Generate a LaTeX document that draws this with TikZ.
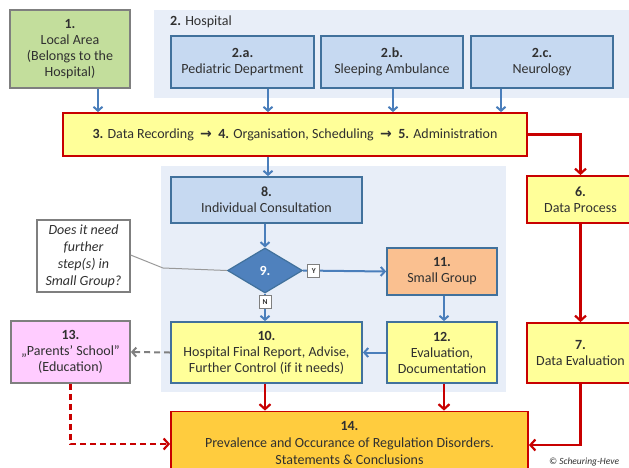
\documentclass[tikz,border=0pt]{standalone}
\usepackage{fontspec}
\setmainfont{Carlito}
\newfontfamily\symfont{DejaVu Sans}
\usetikzlibrary{arrows.meta,shapes.geometric,calc}
\definecolor{bluefill}{HTML}{C6D9F1}
\definecolor{blueline}{HTML}{41719C}
\definecolor{bluearrow}{HTML}{4A7EBB}
\definecolor{greenfill}{HTML}{C3DE9C}
\definecolor{grayline}{HTML}{7F7F7F}
\definecolor{yellowfill}{HTML}{FFFF99}
\definecolor{redline}{HTML}{C80000}
\definecolor{orangefill}{HTML}{FAC090}
\definecolor{pinkfill}{HTML}{FFCCFF}
\definecolor{goldfill}{HTML}{FFCC3E}
\definecolor{bgblue}{HTML}{E8EEF8}
\definecolor{txt}{HTML}{303030}
\definecolor{diamfill}{HTML}{4F81BD}
\tikzset{
  box/.style={rectangle, draw, line width=1.8pt, align=center, inner sep=2pt, text=txt,
    font=\fontsize{14}{16}\selectfont},
  bluebox/.style={box, fill=bluefill, draw=blueline},
  yelbox/.style={box, fill=yellowfill, draw=redline},
  yelblue/.style={box, fill=yellowfill, draw=blueline},
  barrow/.style={draw=bluearrow, line width=2pt, -{Straight Barb[length=4pt,width=9pt]}},
  rarrow/.style={draw=redline, line width=2.2pt, -{Straight Barb[length=5pt,width=11pt]}},
  yn/.style={rectangle, draw=grayline, fill=white, line width=0.8pt, inner sep=1pt,
    minimum width=12pt, minimum height=13pt, font=\fontsize{7.5}{7.5}\selectfont\bfseries, text=txt},
}
\begin{document}
\begin{tikzpicture}[x=1pt,y=-1pt]
\useasboundingbox (0,0) rectangle (629,467);
\clip (0,0) rectangle (629,467);
% backgrounds
\fill[bgblue] (154,10) rectangle (629,98);
\fill[bgblue] (161,166) rectangle (506,392);
\node[anchor=west, text=txt, font=\fontsize{14}{16}\selectfont, inner sep=0] (hosp) at (170,22) {\textbf{2.} Hospital};
% nodes
\node[box, fill=greenfill, draw=grayline, minimum width=120pt, minimum height=78pt] (n1) at (70,49)
  {\textbf{1.}\\Local Area\\(Belongs to the\\Hospital)};
\node[bluebox, minimum width=143pt, minimum height=52pt] (n2a) at (242.5,62) {\textbf{2.a.}\\Pediatric Department};
\node[bluebox, minimum width=142pt, minimum height=52pt] (n2b) at (392,62) {\textbf{2.b.}\\Sleeping Ambulance};
\node[bluebox, minimum width=142pt, minimum height=52pt] (n2c) at (542,62) {\textbf{2.c.}\\Neurology};
\node[yelbox, minimum width=464pt, minimum height=43pt] (n3) at (295,134.5)
  {\textbf{3.} Data Recording~ {\symfont\bfseries →}~ \textbf{4.} Organisation, Scheduling~ {\symfont\bfseries →}~ \textbf{5.} Administration};
\node[bluebox, minimum width=191pt, minimum height=46pt] (n8) at (266.5,200) {\textbf{8.}\\Individual Consultation};
\node[diamond, fill=diamfill, draw=blueline, line width=1.2pt, minimum width=75pt, minimum height=45pt,
  inner sep=0pt, text=white, font=\fontsize{14}{16}\selectfont\bfseries] (n9) at (265,270.5) {9.};
\node[box, fill=orangefill, draw=blueline, minimum width=110pt, minimum height=47pt] (n11) at (442,271.5) {\textbf{11.}\\Small Group};
\node[yelblue, minimum width=191pt, minimum height=61pt] (n10) at (266.5,352.5)
  {\textbf{10.}\\Hospital Final Report, Advise,\\Further Control (if it needs)};
\node[yelblue, minimum width=110pt, minimum height=61pt] (n12) at (442,352.5)
  {\textbf{12.}\\Evaluation,\\Documentation};
\node[box, fill=pinkfill, draw=grayline, minimum width=119pt, minimum height=62pt] (n13) at (70.5,352)
  {\textbf{13.}\\„Parents’ School”\\(Education)};
\node[box, fill=white, draw=grayline, line width=1.2pt, minimum width=93pt, minimum height=72pt,
  font=\fontsize{14}{17}\selectfont\itshape] (call) at (83.5,256)
  {Does it need\\further\\step(s) in\\Small Group?};
\node[yelbox, minimum width=107pt, minimum height=47pt] (n6) at (580.5,199.5) {\textbf{6.}\\Data Process};
\node[yelbox, minimum width=107pt, minimum height=60pt] (n7) at (580.5,353) {\textbf{7.}\\Data Evaluation};
\node[box, fill=goldfill, draw=redline, minimum width=357pt, minimum height=63pt, font=\fontsize{14}{17}\selectfont] (n14) at (349.5,443)
  {\textbf{14.}\\Prevalence and Occurance of Regulation Disorders.\\Statements \& Conclusions};
\node[anchor=west, inner sep=0, text=txt, font=\fontsize{9.5}{9.5}\selectfont\itshape] (copy) at (549,462) {© Scheuring-Heve};
% connectors
\draw[barrow] ([xshift=28pt]n1.south) -- ([xshift=28pt]n1.south |- n3.north);
\draw[barrow] ([xshift=25.5pt]n2a.south) -- ([xshift=25.5pt]n2a.south |- n3.north);
\draw[barrow] ([xshift=1pt]n2b.south) -- ([xshift=1pt]n2b.south |- n3.north);
\draw[barrow] ([xshift=-41pt]n2c.south) -- ([xshift=-41pt]n2c.south |- n3.north);
\draw[barrow] ([xshift=1.5pt]n8.north |- n3.south) -- ([xshift=1.5pt]n8.north);
\draw[barrow] (n9.north |- n8.south) -- (n9.north);
\draw[barrow] (n9.east) -- node[pos=0.13, yn] (ylab) {Y} (n11.west);
\draw[barrow] (n9.south) -- node[pos=0.3, yn] (nlab) {N} (n9.south |- n10.north);
\draw[barrow] ([xshift=2pt]n11.south) -- ([xshift=2pt]n12.north);
\draw[barrow] (n12.west) -- (n10.east);
\draw[draw=grayline, line width=2pt, dash pattern=on 6pt off 4pt, -{Straight Barb[length=4pt,width=9pt]}] (n10.west) -- (n13.east);
\coordinate (cbend) at (163,268);
\draw[draw=black!40, line width=1pt] ([yshift=1pt]call.east) -- (cbend) -- (n9.west);
\draw[rarrow] (n3.east) -| (n6.north);
\draw[rarrow] (n6.south) -- (n7.north);
\draw[rarrow] (n9.south |- n10.south) -- (n9.south |- n14.north);
\draw[rarrow] ([xshift=2pt]n12.south) -- ([xshift=2pt]n12.south |- n14.north);
\draw[rarrow] (n7.south) |- ([yshift=-2pt]n14.east);
\draw[rarrow, dash pattern=on 6pt off 4pt] (n13.south) |- ([yshift=-1pt]n14.west);
\end{tikzpicture}
\end{document}
